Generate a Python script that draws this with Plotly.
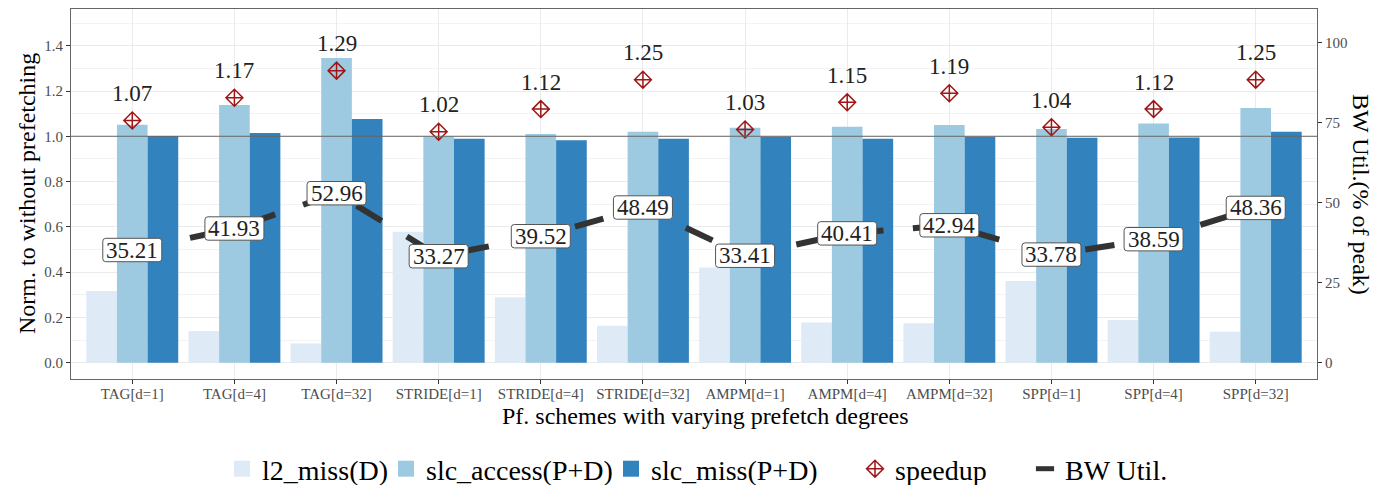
import plotly.graph_objects as go

categories = ["TAG[d=1]", "TAG[d=4]", "TAG[d=32]",
              "STRIDE[d=1]", "STRIDE[d=4]", "STRIDE[d=32]",
              "AMPM[d=1]", "AMPM[d=4]", "AMPM[d=32]",
              "SPP[d=1]", "SPP[d=4]", "SPP[d=32]"]
l2_miss = [0.317, 0.140, 0.085, 0.578, 0.289, 0.163, 0.420, 0.178, 0.174, 0.361, 0.188, 0.137]
slc_access = [1.051, 1.138, 1.346, 0.999, 1.010, 1.020, 1.038, 1.042, 1.050, 1.032, 1.057, 1.125]
slc_miss = [1.001, 1.014, 1.076, 0.989, 0.983, 0.989, 0.998, 0.989, 0.998, 0.994, 0.995, 1.020]
speedup = [1.07, 1.17, 1.29, 1.02, 1.12, 1.25, 1.03, 1.15, 1.19, 1.04, 1.12, 1.25]
bw_util = [35.21, 41.93, 52.96, 33.27, 39.52, 48.49, 33.41, 40.41, 42.94, 33.78, 38.59, 48.36]
left_ticks = [0.0, 0.2, 0.4, 0.6, 0.8, 1.0, 1.2, 1.4]
right_ticks = [0, 25, 50, 75, 100]

bar_names = ["l2_miss(D)", "slc_access(P+D)", "slc_miss(P+D)"]
bar_colors = ["#DEEBF7", "#9ECAE1", "#3182BD"]
SERIF = "Liberation Serif"
idx = list(range(len(categories)))

# legend glyph centres (px) for each legend entry
legend_ids = ["legend", "legend2", "legend3", "legend4", "legend5"]
legend_glyph_px = [243, 407, 632, 876, 1046]

fig = go.Figure()
for k, (name, vals, col) in enumerate(zip(bar_names, [l2_miss, slc_access, slc_miss], bar_colors)):
    fig.add_trace(go.Bar(x=idx, y=vals, name=name, marker=dict(color=col, line=dict(width=0)),
                         showlegend=False, hoverinfo="skip"))
    # legend entry
    fig.add_trace(go.Scatter(x=[None], y=[None], mode="markers", name=name, legend=legend_ids[k],
                             marker=dict(symbol="square", size=16, color=col)))

# BW util line on secondary axis
fig.add_trace(go.Scatter(x=idx, y=bw_util, yaxis="y2", mode="lines", showlegend=False,
                         line=dict(color="#333333", width=6, dash="29.5px,29.5px")))

# speedup markers
fig.add_trace(go.Scatter(x=idx, y=speedup, mode="markers", name="speedup", legend=legend_ids[3],
                         marker=dict(symbol="diamond-cross-open", size=13, color="#A01515",
                                     line=dict(width=1.5, color="#A01515"))))
# BW legend entry
fig.add_trace(go.Scatter(x=[None], y=[None], mode="markers", name="BW Util.", legend=legend_ids[4],
                         marker=dict(symbol="line-ew", size=13, color="#333333",
                                     line=dict(width=5, color="#333333"))))

shapes = []
annotations = []
# hline at 1.0
shapes.append(dict(type="line", xref="paper", x0=0, x1=1, yref="y", y0=1.0, y1=1.0,
                   line=dict(color="#666666", width=1), layer="above"))
# BW labels (rounded white boxes + text)
w, h, r = 29.5, 11.7, 3
box_path = (f"M{-w+r},{-h} L{w-r},{-h} Q{w},{-h} {w},{-h+r} L{w},{h-r} Q{w},{h} {w-r},{h} "
            f"L{-w+r},{h} Q{-w},{h} {-w},{h-r} L{-w},{-h+r} Q{-w},{-h} {-w+r},{-h} Z")
for i, v in zip(idx, bw_util):
    shapes.append(dict(type="path", xref="x", yref="y2", xsizemode="pixel", ysizemode="pixel",
                       xanchor=i, yanchor=v, path=box_path, fillcolor="white",
                       line=dict(color="#555555", width=1), layer="above"))
    annotations.append(dict(x=i, y=v, xref="x", yref="y2", text=f"{v:.2f}", showarrow=False,
                            font=dict(family=SERIF, size=23, color="#222222"),
                            xanchor="center", yanchor="middle"))
# speedup labels
for i, s in zip(idx, speedup):
    annotations.append(dict(x=i, y=s, xref="x", yref="y", text=f"{s:.2f}", showarrow=False,
                            font=dict(family=SERIF, size=23, color="#222222"),
                            xanchor="center", yanchor="middle", yshift=27))
# axis titles
annotations.append(dict(xref="paper", yref="paper", x=(27 - 71) / 1246, y=0.5,
                        text="Norm. to without prefetching", textangle=-90, showarrow=False,
                        font=dict(family=SERIF, size=24, color="black"),
                        xanchor="center", yanchor="middle"))
annotations.append(dict(xref="paper", yref="paper", x=(1361 - 71) / 1246, y=0.5,
                        text="BW Util.(% of peak)", textangle=90, showarrow=False,
                        font=dict(family=SERIF, size=24, color="black"),
                        xanchor="center", yanchor="middle"))
annotations.append(dict(xref="paper", yref="paper", x=(705 - 71) / 1246, y=(379 - 416) / 370,
                        text="Pf. schemes with varying prefetch degrees", showarrow=False,
                        font=dict(family=SERIF, size=24, color="black"),
                        xanchor="center", yanchor="middle"))

tickfont = dict(family=SERIF, size=15, color="#4D4D4D")
leg_common = dict(orientation="h", yanchor="middle", y=(379 - 469) / 370, xanchor="left",
                  font=dict(family=SERIF, size=28, color="black"), bgcolor="rgba(0,0,0,0)",
                  borderwidth=0)
legend_layout = {lid: dict(x=(gx - 21 - 71) / 1246, **leg_common)
                 for lid, gx in zip(legend_ids, legend_glyph_px)}

fig.update_layout(
    width=1391, height=485,
    margin=dict(l=71, r=74, t=9, b=106, autoexpand=False),
    paper_bgcolor="white", plot_bgcolor="white",
    barmode="group", bargap=0.1, bargroupgap=0,
    xaxis=dict(type="linear", range=[-0.6, len(categories) - 0.4], tickmode="array",
               tickvals=idx, ticktext=categories, tickfont=tickfont, ticklabelstandoff=-3,
               showgrid=True, gridcolor="#EBEBEB", gridwidth=1, zeroline=False,
               ticks="outside", ticklen=4, tickcolor="#333333",
               showline=True, mirror=True, linecolor="#666666", linewidth=1),
    yaxis=dict(range=[-0.0721, 1.5622], tickmode="array", tickvals=left_ticks,
               ticktext=[f"{t:.1f}" for t in left_ticks], tickfont=tickfont,
               showgrid=True, gridcolor="#EBEBEB", gridwidth=1, zeroline=False,
               minor=dict(dtick=0.1, tick0=0, showgrid=True, gridcolor="#F3F3F3", gridwidth=0.6),
               ticks="outside", ticklen=4, tickcolor="#333333",
               showline=True, mirror=True, linecolor="#666666", linewidth=1),
    yaxis2=dict(range=[-5.10, 110.52], overlaying="y", side="right", tickmode="array",
                tickvals=right_ticks, ticktext=[str(t) for t in right_ticks], tickfont=tickfont,
                showgrid=False, zeroline=False, ticks="outside", ticklen=4, tickcolor="#333333",
                showline=False),
    shapes=shapes, annotations=annotations,
    **legend_layout,
)

fig.write_html("out.html")
